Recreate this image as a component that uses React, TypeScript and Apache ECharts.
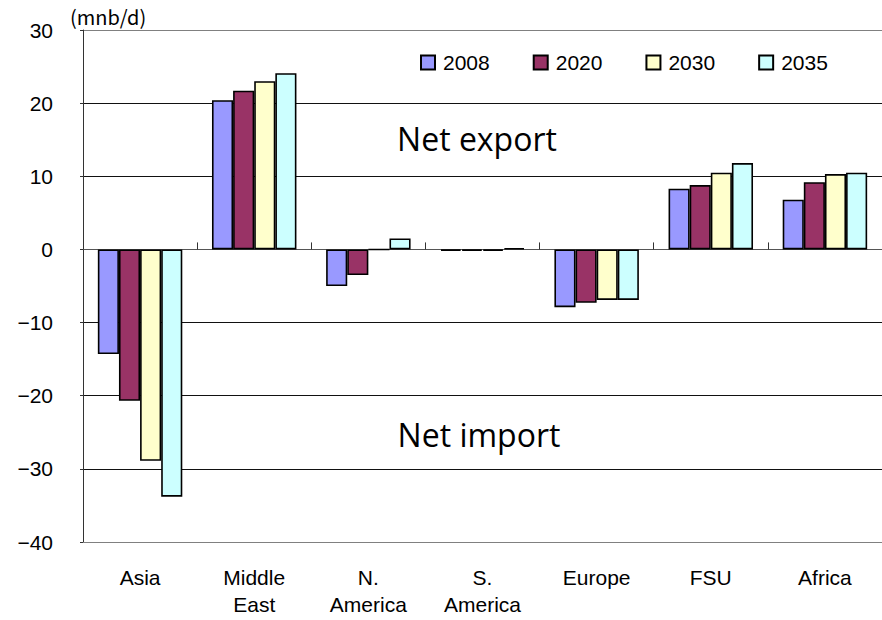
import React, { useEffect, useRef } from "react";
import * as echarts from "echarts";

// Regional net crude trade balance (million barrels per day)
const categories = ["Asia", "Middle\nEast", "N.\nAmerica", "S.\nAmerica", "Europe", "FSU", "Africa"];
const years = ["2008", "2020", "2030", "2035"];
const v2008 = [-14.3, 20.4, -5.0, -0.2, -7.9, 8.3, 6.8];
const v2020 = [-20.7, 21.7, -3.5, -0.2, -7.3, 8.8, 9.2];
const v2030 = [-28.9, 23.0, 0, -0.2, -6.9, 10.5, 10.3];
const v2035 = [-33.8, 24.1, 1.5, 0.2, -6.9, 11.8, 10.5];
const seriesValues = [v2008, v2020, v2030, v2035];
const seriesColors = ["#9999FF", "#993366", "#FFFFCC", "#CCFFFF"];

const yMin = -40;
const yMax = 30;
const yStep = 10;

const LABEL_FONT = "'Liberation Sans', Arial, sans-serif";

export default function App() {
  const ref = useRef<HTMLDivElement>(null);

  useEffect(() => {
    if (!ref.current) return;
    const chart = echarts.init(ref.current, undefined, { renderer: "svg" });

    const gridColors = ["#808080", "#111", "#111", "#111", "#666", "#111", "#111", "#808080"];

    chart.setOption({
      animation: false,
      backgroundColor: "#fff",
      grid: { left: 83, top: 30, bottom: 78, width: 806, containLabel: false },
      legend: {
        data: years,
        left: 420,
        top: 52,
        padding: 0,
        itemWidth: 14,
        itemHeight: 14,
        itemGap: 43,
        icon: "rect",
        textStyle: { fontFamily: LABEL_FONT, fontSize: 21, color: "#000", padding: [0, 0, 0, 3] },
      },
      xAxis: [
        {
          type: "category",
          data: categories,
          position: "bottom",
          axisLine: { onZero: false, lineStyle: { color: "#808080", width: 1 } },
          axisTick: { show: false },
          axisLabel: {
            fontFamily: LABEL_FONT,
            fontSize: 21,
            color: "#000",
            margin: 22,
            lineHeight: 27,
            interval: 0,
          },
        },
        {
          type: "category",
          data: categories,
          position: "bottom",
          axisLine: { onZero: true, lineStyle: { color: "#555", width: 1 } },
          axisTick: { show: true, inside: true, length: 7, lineStyle: { color: "#333" } },
          axisLabel: { show: false },
        },
      ],
      yAxis: {
        type: "value",
        min: yMin,
        max: yMax,
        interval: yStep,
        axisLine: { show: true, lineStyle: { color: "#333", width: 1 } },
        axisTick: { show: true, inside: false, length: 3, lineStyle: { color: "#333" } },
        axisLabel: {
          fontFamily: LABEL_FONT,
          fontSize: 21,
          color: "#000",
          margin: 30,
          formatter: (v: number) => (v < 0 ? "\u2212" + Math.abs(v) : String(v)),
        },
        splitLine: { show: true, lineStyle: { color: gridColors, width: 1 } },
      },
      series: years.map((y, i) => ({
        name: y,
        type: "bar",
        xAxisIndex: 0,
        data: seriesValues[i],
        barGap: "0%",
        barCategoryGap: "26%",
        itemStyle: { color: seriesColors[i], borderColor: "#000", borderWidth: 1.6 },
      })),
      graphic: [
        {
          type: "text",
          left: 70,
          top: 6,
          style: {
            text: "(mnb/d)",
            font: "20px 'Noto Sans CJK JP', sans-serif",
            fill: "#000",
          },
        },
        {
          type: "text",
          x: 477,
          y: 138,
          style: {
            text: "Net export",
            font: "32px 'Open Sans', sans-serif",
            fill: "#000",
            align: "center",
            verticalAlign: "middle",
          },
        },
        {
          type: "text",
          x: 479,
          y: 434,
          style: {
            text: "Net import",
            font: "32px 'Open Sans', sans-serif",
            fill: "#000",
            align: "center",
            verticalAlign: "middle",
          },
        },
      ],
    });

    return () => chart.dispose();
  }, []);

  return (
    <div
      ref={ref}
      style={{ position: "absolute", left: 0, top: 0, width: 882, height: 620 }}
    />
  );
}
